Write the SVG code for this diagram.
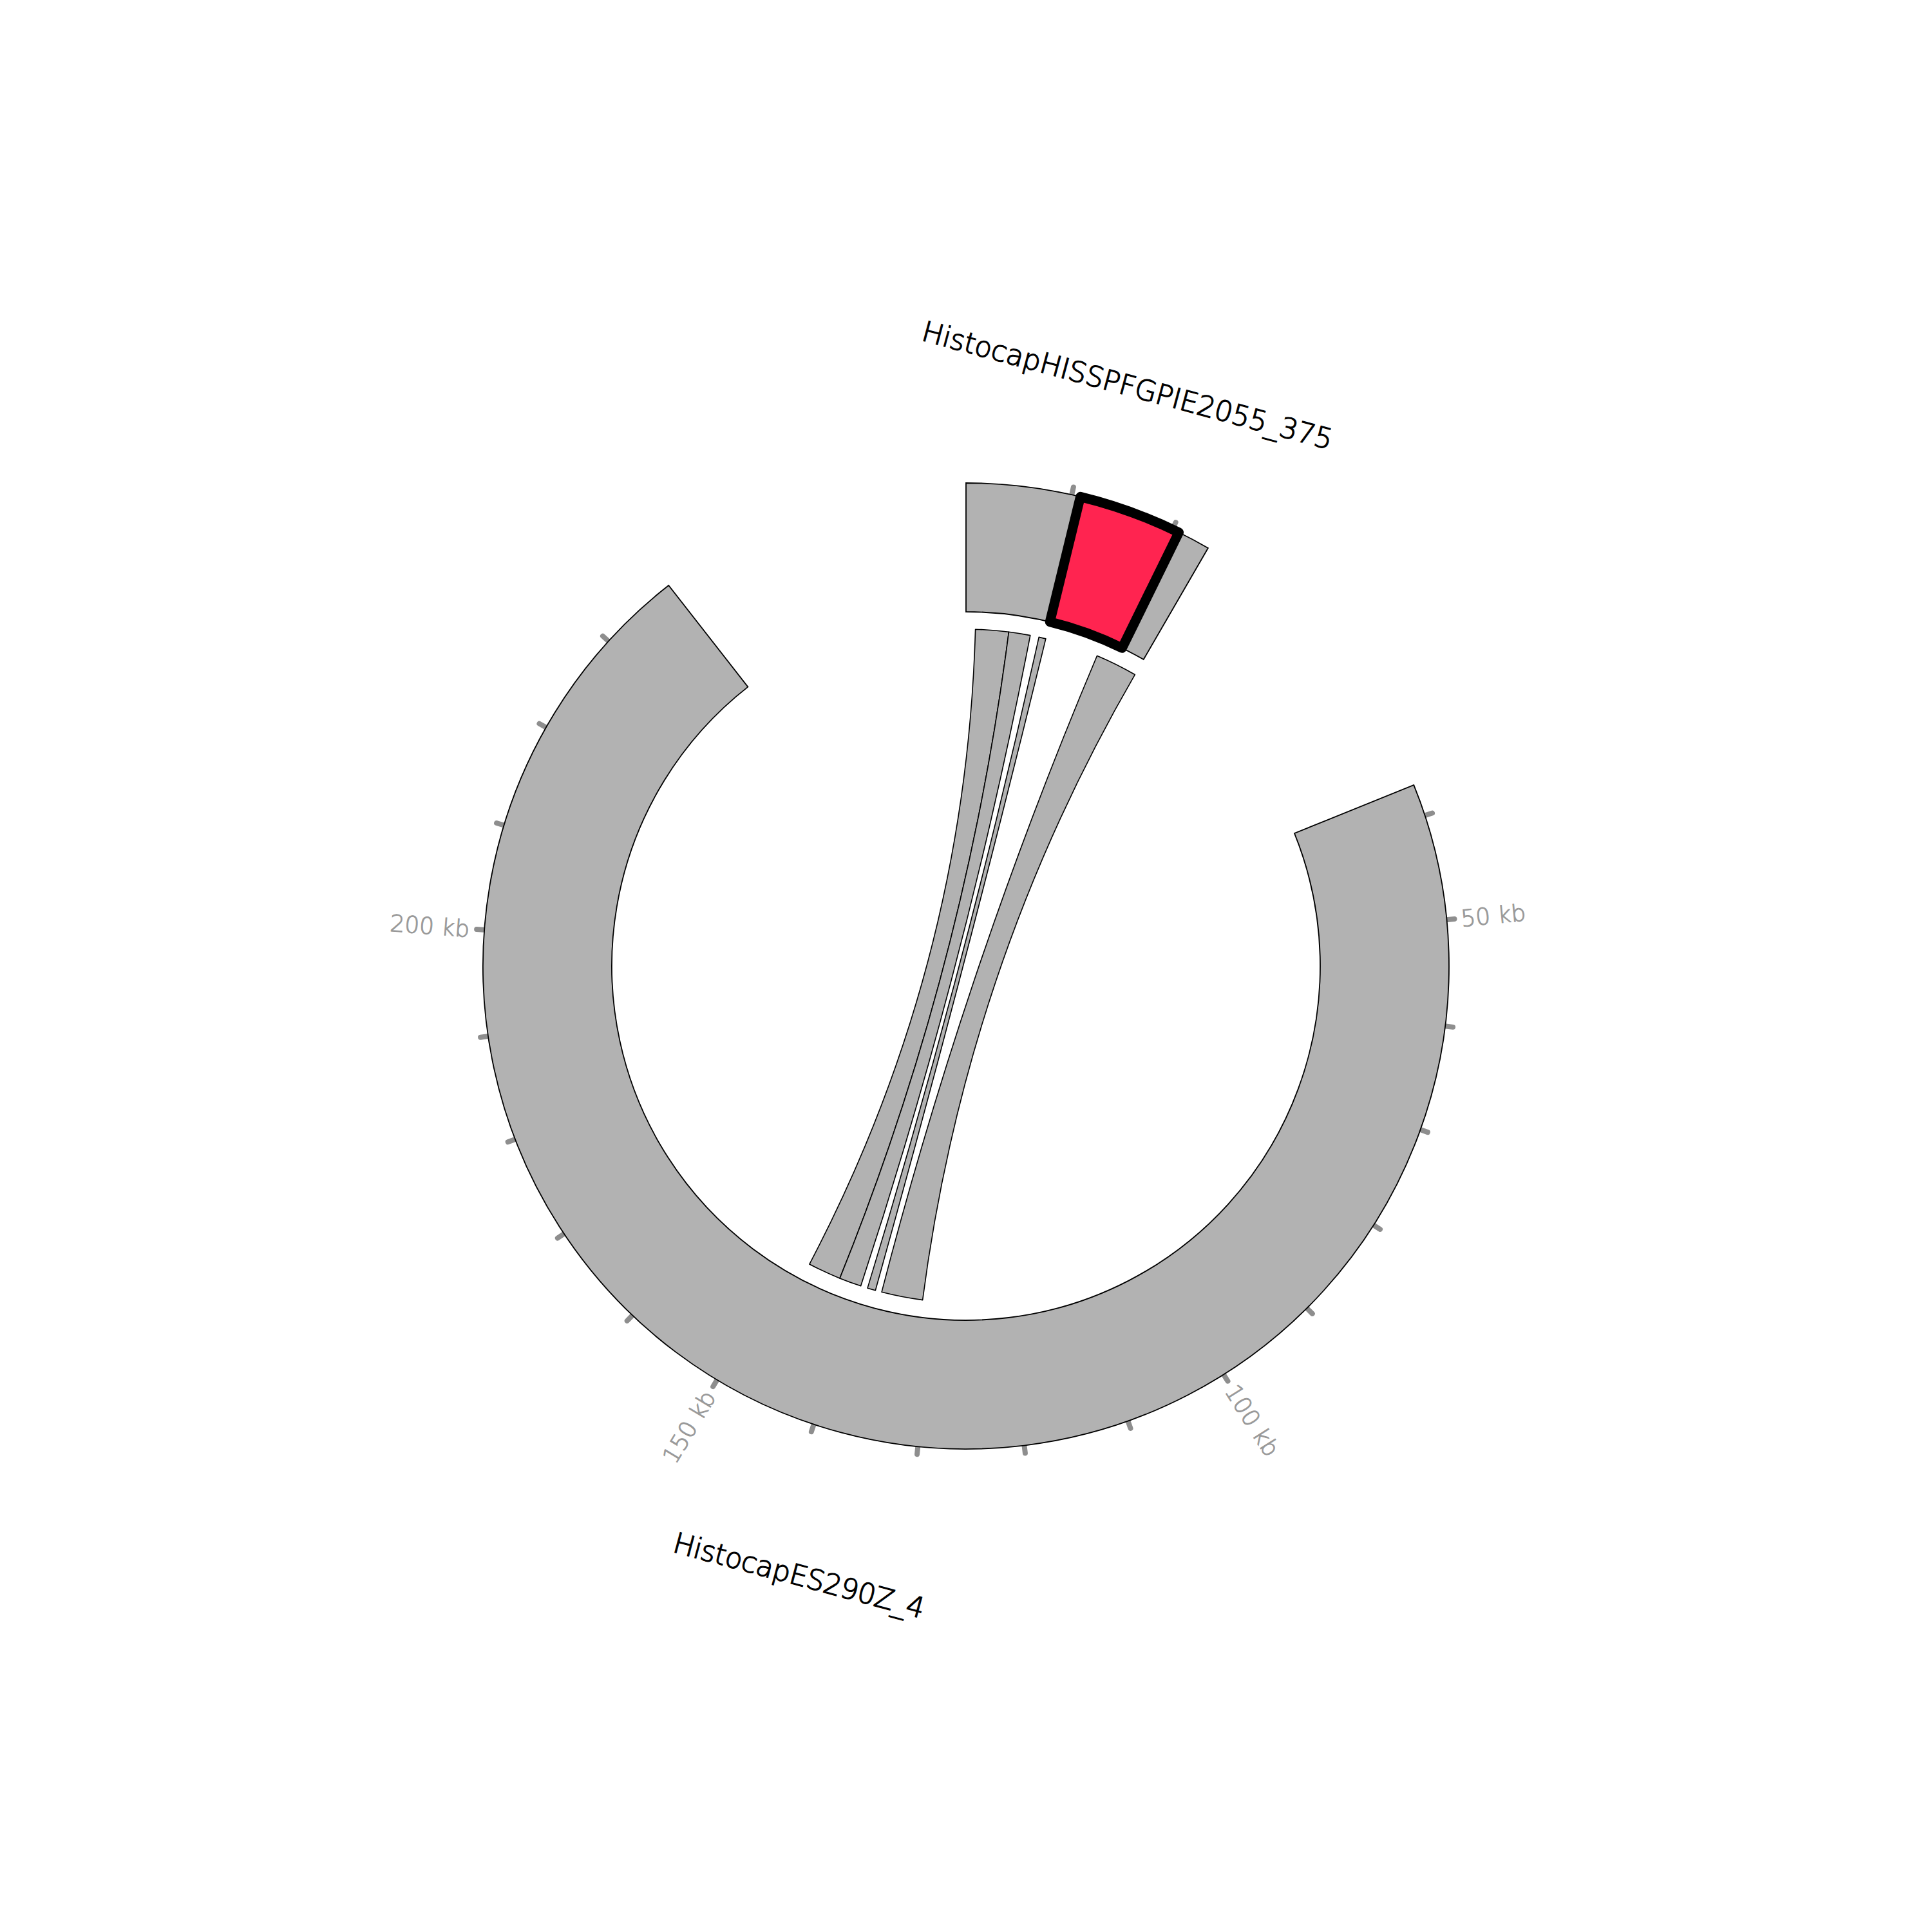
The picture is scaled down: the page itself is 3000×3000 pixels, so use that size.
<svg xmlns="http://www.w3.org/2000/svg" width="3000" height="3000" viewBox="0 0 3000 3000">
<style>
.sector{fill:#b2b2b2;stroke:#000;stroke-width:1.8;stroke-linejoin:miter}
.link{fill:#b2b2b2;stroke:#000;stroke-width:1.6;stroke-linejoin:round}
.hl{fill:#ff2450;stroke:#000;stroke-width:15;stroke-linejoin:round}
.tick{stroke:#8e8e8e;stroke-width:8;stroke-linecap:round}
.tl{font-family:"DejaVu Sans","Liberation Sans",sans-serif;font-weight:200;font-size:36px;fill:#999;stroke:#999;stroke-width:1}
.name{font-family:"DejaVu Sans","Liberation Sans",sans-serif;font-weight:200;font-size:44px;fill:#000;stroke:#000;stroke-width:1.3}
</style>
<rect width="3000" height="3000" fill="#fff"/>
<g id="ticks">
<g id="ticks-small">
<line class="tick" x1="1500" y1="751" x2="1500" y2="738" transform="rotate(12.65 1500 1500)"/>
<line class="tick" x1="1500" y1="751" x2="1500" y2="738" transform="rotate(25.3 1500 1500)"/>
</g>
<g id="ticks-big">
<line class="tick" x1="1500" y1="751" x2="1500" y2="738" transform="rotate(71.84 1500 1500)"/>
<line class="tick" x1="1500" y1="751" x2="1500" y2="738" transform="rotate(84.50 1500 1500)"/>
<line class="tick" x1="1500" y1="751" x2="1500" y2="738" transform="rotate(97.15 1500 1500)"/>
<line class="tick" x1="1500" y1="751" x2="1500" y2="738" transform="rotate(109.80 1500 1500)"/>
<line class="tick" x1="1500" y1="751" x2="1500" y2="738" transform="rotate(122.45 1500 1500)"/>
<line class="tick" x1="1500" y1="751" x2="1500" y2="738" transform="rotate(135.11 1500 1500)"/>
<line class="tick" x1="1500" y1="751" x2="1500" y2="738" transform="rotate(147.76 1500 1500)"/>
<line class="tick" x1="1500" y1="751" x2="1500" y2="738" transform="rotate(160.41 1500 1500)"/>
<line class="tick" x1="1500" y1="751" x2="1500" y2="738" transform="rotate(173.07 1500 1500)"/>
<line class="tick" x1="1500" y1="751" x2="1500" y2="738" transform="rotate(185.72 1500 1500)"/>
<line class="tick" x1="1500" y1="751" x2="1500" y2="738" transform="rotate(198.37 1500 1500)"/>
<line class="tick" x1="1500" y1="751" x2="1500" y2="738" transform="rotate(211.03 1500 1500)"/>
<line class="tick" x1="1500" y1="751" x2="1500" y2="738" transform="rotate(223.68 1500 1500)"/>
<line class="tick" x1="1500" y1="751" x2="1500" y2="738" transform="rotate(236.33 1500 1500)"/>
<line class="tick" x1="1500" y1="751" x2="1500" y2="738" transform="rotate(248.98 1500 1500)"/>
<line class="tick" x1="1500" y1="751" x2="1500" y2="738" transform="rotate(261.64 1500 1500)"/>
<line class="tick" x1="1500" y1="751" x2="1500" y2="738" transform="rotate(274.29 1500 1500)"/>
<line class="tick" x1="1500" y1="751" x2="1500" y2="738" transform="rotate(286.94 1500 1500)"/>
<line class="tick" x1="1500" y1="751" x2="1500" y2="738" transform="rotate(299.60 1500 1500)"/>
<line class="tick" x1="1500" y1="751" x2="1500" y2="738" transform="rotate(312.25 1500 1500)"/>
</g>
</g>
<g id="node-HistocapHISSPFGPIE2055_375">
<path class="sector" d="M1500,750 A750,750 0 0 1 1875.9,851.0 L1775.67,1024.07 A550,550 0 0 0 1500,950 Z"/>
<path class="hl" d="M1677.63,771.34 A750,750 0 0 1 1830.51,826.75 L1742.37,1006.29 A550,550 0 0 0 1630.26,965.65 Z"/>
<text class="name" x="1746.8" y="613.2" text-anchor="middle" textLength="658" transform="rotate(15 1746.8 613.2)">HistocapHISSPFGPIE2055_375</text>
</g>
<g id="node-HistocapES290Z_4">
<path class="sector" d="M2195.39,1219.04 A750,750 0 1 1 1038.25,908.99 L1161.39,1066.59 A550,550 0 1 0 2009.95,1293.96 Z"/>
<text class="tl" x="2272" y="1513" transform="rotate(-5.50 1500 1500)">50 kb</text>
<text class="tl" x="2272" y="1513" transform="rotate(57.76 1500 1500)">100 kb</text>
<text class="tl" x="727" y="1513" text-anchor="end" transform="rotate(-58.97 1500 1500)">150 kb</text>
<text class="tl" x="727" y="1513" text-anchor="end" transform="rotate(4.29 1500 1500)">200 kb</text>
<text class="name" x="1236.9" y="2461.3" text-anchor="middle" textLength="402" transform="rotate(15 1236.9 2461.3)">HistocapES290Z_4</text>
</g>
<g id="connectors">
<path class="link" d="M1514.60,977.20 A523,523 0 0 1 1566.45,981.24 Q1500,1500 1304.08,1984.92 A523,523 0 0 1 1256.89,1963.06 Q1500,1500 1514.60,977.20 Z"/>
<path class="link" d="M1566.45,981.24 A523,523 0 0 1 1599.79,986.61 Q1500,1500 1336.65,1996.83 A523,523 0 0 1 1304.08,1984.92 Q1500,1500 1566.45,981.24 Z"/>
<path class="link" d="M1613.20,989.40 A523,523 0 0 1 1623.87,991.88 Q1500,1500 1359.35,2003.73 A523,523 0 0 1 1347.09,2000.14 Q1500,1500 1613.20,989.40 Z"/>
<path class="link" d="M1703.51,1018.22 A523,523 0 0 1 1762.29,1047.53 Q1500,1500 1432.64,2018.64 A523,523 0 0 1 1369.05,2006.34 Q1500,1500 1703.51,1018.22 Z"/>
</g>
</svg>
